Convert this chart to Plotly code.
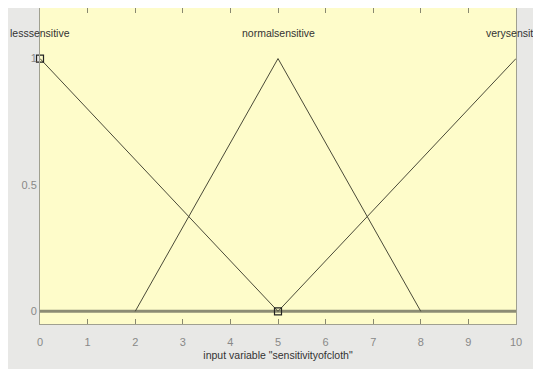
import plotly.graph_objects as go

mf_names = ["lesssensitive", "normalsensitive", "verysensitive"]
mf_x = [[0, 5], [2, 5, 8], [5, 10]]
mf_y = [[1, 0], [0, 1, 0], [0, 1]]
label_x = [0, 5, 10]
label_y = 1.1
marker_x = [0, 5]
marker_y = [1, 0]
x_ticks = [0, 1, 2, 3, 4, 5, 6, 7, 8, 9, 10]
y_ticks = [0, 0.5, 1]
x_title = 'input variable "sensitivityofcloth"'

fig = go.Figure()
# baseline
fig.add_trace(go.Scatter(x=[0, 10], y=[0, 0], mode="lines",
                         line=dict(color="#8c8c74", width=3), hoverinfo="skip"))
for xs, ys in zip(mf_x, mf_y):
    fig.add_trace(go.Scatter(x=xs, y=ys, mode="lines",
                             line=dict(color="#4a4a38", width=1), hoverinfo="skip"))
fig.add_trace(go.Scatter(x=marker_x, y=marker_y, mode="markers", cliponaxis=False,
                         marker=dict(symbol="square-open", size=7,
                                     color="#222222", line=dict(width=1.2))))

for name, lx in zip(mf_names, label_x):
    fig.add_annotation(x=lx, y=label_y, text=name, showarrow=False,
                       xanchor="center", yanchor="middle",
                       font=dict(size=10.5, color="#333333",
                                 family="Liberation Sans Narrow, Arial Narrow, sans-serif"))

fig.update_layout(
    width=541, height=369,
    margin=dict(l=32, r=33, t=0, b=53, autoexpand=False),
    paper_bgcolor="#e8e8e6",
    plot_bgcolor="#fefcca",
    showlegend=False,
    font=dict(family="Liberation Sans Narrow, Arial Narrow, sans-serif", size=11, color="#555555"),
)
fig.update_xaxes(range=[0, 10], tickvals=x_ticks, ticks="inside", ticklen=5,
                 tickcolor="#888870", showgrid=False, zeroline=False,
                 showline=True, linecolor="#a0a090", mirror="ticks", linewidth=1,
                 ticklabelstandoff=8,
                 tickfont=dict(color="#888888", size=11),
                 title=dict(text=x_title, font=dict(color="#333333", size=10.5), standoff=4))
fig.update_yaxes(range=[-0.05, 1.2], tickvals=y_ticks, ticktext=["0", "0.5", "1"],
                 ticks="", showgrid=False, zeroline=False,
                 showline=True, linecolor="#a0a090", mirror=True, linewidth=1,
                 tickfont=dict(color="#888888", size=11))

fig.write_html("out.html")
